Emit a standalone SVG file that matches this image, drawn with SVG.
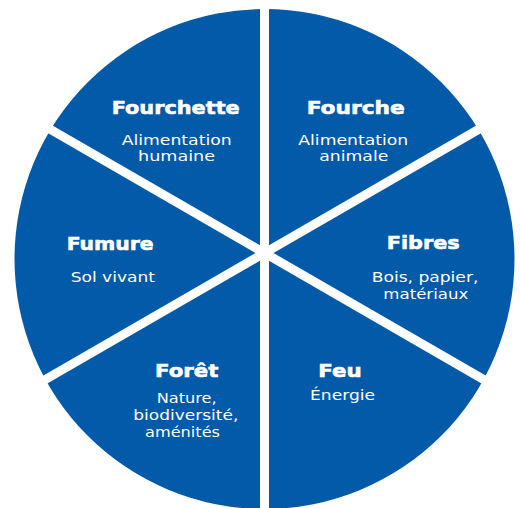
<svg xmlns="http://www.w3.org/2000/svg" width="520" height="508" viewBox="0 0 520 508">
  <defs>
    <clipPath id="disc"><circle cx="264.5" cy="259" r="250"/></clipPath>
  </defs>
  <style>
    .sector { fill: #035AA9; }
    .title { font-family: "DejaVu Sans", "Liberation Sans", sans-serif; font-weight: bold; font-size: 18.5px; fill: #ffffff; stroke: #ffffff; stroke-width: 0.6px; }
    .sub { font-family: "DejaVu Sans", "Liberation Sans", sans-serif; font-size: 13.6px; fill: #ffffff; }
  </style>
  <rect width="520" height="508" fill="#ffffff"/>
  <g id="fourchette">
    <polygon class="sector" clip-path="url(#disc)" points="260,245.21 -86.41,45.21 260,-154.79"/>
    <text class="title" x="111.7" y="113.5" textLength="128" lengthAdjust="spacingAndGlyphs">Fourchette</text>
    <text class="sub" x="121.7" y="145" textLength="110" lengthAdjust="spacingAndGlyphs">Alimentation</text>
    <text class="sub" x="138" y="161" textLength="77" lengthAdjust="spacingAndGlyphs">humaine</text>
  </g>
  <g id="fourche">
    <polygon class="sector" clip-path="url(#disc)" points="269,245.21 269,-154.79 615.41,45.21"/>
    <text class="title" x="306.7" y="113.5" textLength="98" lengthAdjust="spacingAndGlyphs">Fourche</text>
    <text class="sub" x="298.3" y="145" textLength="110" lengthAdjust="spacingAndGlyphs">Alimentation</text>
    <text class="sub" x="319.3" y="161" textLength="69" lengthAdjust="spacingAndGlyphs">animale</text>
  </g>
  <g id="fibres">
    <polygon class="sector" clip-path="url(#disc)" points="273.5,253 619.91,53 619.91,453"/>
    <text class="title" x="386.7" y="248.5" textLength="73" lengthAdjust="spacingAndGlyphs">Fibres</text>
    <text class="sub" x="371.7" y="281.5" textLength="106.7" lengthAdjust="spacingAndGlyphs">Bois, papier,</text>
    <text class="sub" x="383.3" y="299" textLength="85" lengthAdjust="spacingAndGlyphs">matériaux</text>
  </g>
  <g id="feu">
    <polygon class="sector" clip-path="url(#disc)" points="269,260.79 615.41,460.79 269,660.79"/>
    <text class="title" x="318.3" y="376.5" textLength="43.4" lengthAdjust="spacingAndGlyphs">Feu</text>
    <text class="sub" x="310" y="400" textLength="65" lengthAdjust="spacingAndGlyphs">Énergie</text>
  </g>
  <g id="foret">
    <polygon class="sector" clip-path="url(#disc)" points="260,260.79 260,660.79 -86.41,460.79"/>
    <text class="title" x="155" y="376.5" textLength="63.3" lengthAdjust="spacingAndGlyphs">Forêt</text>
    <text class="sub" x="156.7" y="403" textLength="60" lengthAdjust="spacingAndGlyphs">Nature,</text>
    <text class="sub" x="133.3" y="420" textLength="105" lengthAdjust="spacingAndGlyphs">biodiversité,</text>
    <text class="sub" x="145" y="436.5" textLength="75" lengthAdjust="spacingAndGlyphs">aménités</text>
  </g>
  <g id="fumure">
    <polygon class="sector" clip-path="url(#disc)" points="255.5,253 -90.91,453 -90.91,53"/>
    <text class="title" x="66.7" y="249.5" textLength="87" lengthAdjust="spacingAndGlyphs">Fumure</text>
    <text class="sub" x="70.7" y="281.5" textLength="84.3" lengthAdjust="spacingAndGlyphs">Sol vivant</text>
  </g>
  <g id="connectors"></g>
</svg>
